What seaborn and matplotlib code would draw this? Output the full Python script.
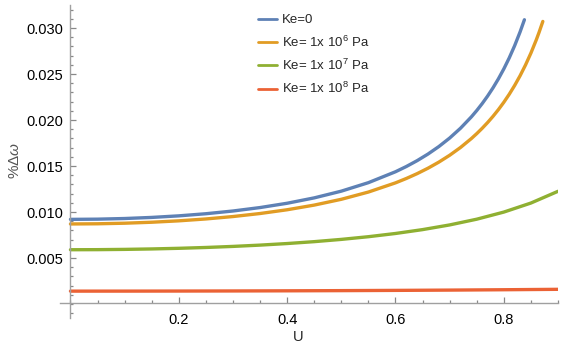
import numpy as np
import pandas as pd
import seaborn as sns
import matplotlib.pyplot as plt
from matplotlib.ticker import MultipleLocator, FixedLocator

# values
u_ke0 = [0.0, 0.05, 0.10, 0.15, 0.20, 0.25, 0.30, 0.35, 0.40, 0.45, 0.50, 0.55, 0.60,
         0.62, 0.64, 0.66, 0.68, 0.70, 0.72, 0.74, 0.75, 0.76, 0.77, 0.78, 0.79, 0.80,
         0.81, 0.82, 0.83, 0.838]
dw_ke0 = [0.00920, 0.009223, 0.009293, 0.009412, 0.009583, 0.009813, 0.010110, 0.010484,
          0.010952, 0.011536, 0.012267, 0.013190, 0.014375, 0.014945, 0.015583, 0.016300,
          0.017113, 0.018039, 0.019103, 0.020336, 0.021029, 0.021780, 0.022599, 0.023493,
          0.024475, 0.025556, 0.026752, 0.028083, 0.029573, 0.030898]

u_ke6 = [0.0, 0.05, 0.10, 0.15, 0.20, 0.25, 0.30, 0.35, 0.40, 0.45, 0.50, 0.55, 0.60,
         0.62, 0.64, 0.66, 0.68, 0.70, 0.72, 0.74, 0.75, 0.76, 0.77, 0.78, 0.79, 0.80,
         0.81, 0.82, 0.83, 0.84, 0.85, 0.86, 0.865, 0.872]
dw_ke6 = [0.00870, 0.008721, 0.008783, 0.008889, 0.009041, 0.009245, 0.009507, 0.009836,
          0.010245, 0.010752, 0.011382, 0.012170, 0.013168, 0.013644, 0.014172, 0.014761,
          0.015422, 0.016167, 0.017013, 0.017981, 0.018519, 0.019098, 0.019722, 0.020397,
          0.021130, 0.021929, 0.022801, 0.023758, 0.024811, 0.025977, 0.027275, 0.028726,
          0.029519, 0.030713]

u_ke7 = [0.0, 0.05, 0.10, 0.15, 0.20, 0.25, 0.30, 0.35, 0.40, 0.45, 0.50, 0.55, 0.60,
         0.65, 0.70, 0.75, 0.80, 0.85, 0.90]
dw_ke7 = [0.00590, 0.005909, 0.005938, 0.005986, 0.006055, 0.006146, 0.006261, 0.006402,
          0.006573, 0.006778, 0.007024, 0.007316, 0.007666, 0.008087, 0.008596, 0.009219,
          0.009993, 0.010975, 0.012251]

u_ke8 = [0.0, 0.1, 0.2, 0.3, 0.4, 0.5, 0.6, 0.7, 0.8, 0.9]
dw_ke8 = [0.00140, 0.001402, 0.001409, 0.001419, 0.001435, 0.001455, 0.001481, 0.001513,
          0.001552, 0.001597]

labels = ["Ke=0", "Ke= 1x 10$^6$ Pa", "Ke= 1x 10$^7$ Pa", "Ke= 1x 10$^8$ Pa"]
colors = ["#5E81B5", "#E19C24", "#8FB032", "#EB6235"]

sns.set_style("white")
plt.rcParams["font.family"] = ["Liberation Sans", "DejaVu Sans"]
plt.rcParams["mathtext.fontset"] = "custom"
plt.rcParams["mathtext.rm"] = "Liberation Sans"
plt.rcParams["mathtext.it"] = "Liberation Sans:italic"
plt.rcParams["mathtext.default"] = "regular"

fig = plt.figure(figsize=(5.65, 3.45), dpi=100)
ax = fig.add_axes([60 / 565, 27 / 345, 498 / 565, 313 / 345])

series = [(u_ke0, dw_ke0), (u_ke6, dw_ke6), (u_ke7, dw_ke7), (u_ke8, dw_ke8)]
for (u, dw), lab, c in zip(series, labels, colors):
    df = pd.DataFrame({"U": u, "dw": dw})
    sns.lineplot(data=df, x="U", y="dw", color=c, linewidth=2.4, label=lab, ax=ax)

ax.set_xlim(-0.0193, 0.9)
ax.set_ylim(-0.00152, 0.0325)

axis_col = "#a0a0a0"
for s in ["top", "right"]:
    ax.spines[s].set_visible(False)
ax.spines["left"].set_position(("data", 0))
ax.spines["bottom"].set_position(("data", 0.00011))
for s in ["left", "bottom"]:
    ax.spines[s].set_color(axis_col)
    ax.spines[s].set_linewidth(1.0)

ax.xaxis.set_major_locator(FixedLocator([0.2, 0.4, 0.6, 0.8]))
ax.xaxis.set_minor_locator(MultipleLocator(0.05))
ax.yaxis.set_major_locator(FixedLocator([0.005, 0.010, 0.015, 0.020, 0.025, 0.030]))
ax.yaxis.set_minor_locator(MultipleLocator(0.001))
ax.xaxis.set_major_formatter(plt.FuncFormatter(lambda v, p: f"{v:.1f}"))
ax.yaxis.set_major_formatter(plt.FuncFormatter(lambda v, p: f"{v:.3f}"))
ax.tick_params(which="both", direction="in", color="#888888", labelsize=10.5,
               labelcolor="black", width=0.9, bottom=True, left=True)
ax.tick_params(which="major", length=4.5, pad=5)
ax.tick_params(which="minor", length=2.5)
ax.tick_params(axis="x", which="major", pad=7)

ax.set_xlabel("")
ax.set_ylabel("")
fig.text(298 / 565, 1 - 337 / 345, "U", ha="center", va="center", fontsize=10.5)
fig.text(15 / 565, 1 - 160 / 345, r"%$\Delta\mathit{\omega}$", ha="center", va="center",
         rotation=90, fontsize=11, color="#555555")

leg = ax.legend(loc="upper left", bbox_to_anchor=(258 / 565, 1 - 14 / 345),
                bbox_transform=fig.transFigure, frameon=False, fontsize=9.5,
                handlelength=1.45, handletextpad=0.35, labelspacing=0.62,
                borderpad=0, borderaxespad=0)
for line in leg.get_lines():
    line.set_linewidth(2.0)

fig.savefig("out.png", dpi=100)
